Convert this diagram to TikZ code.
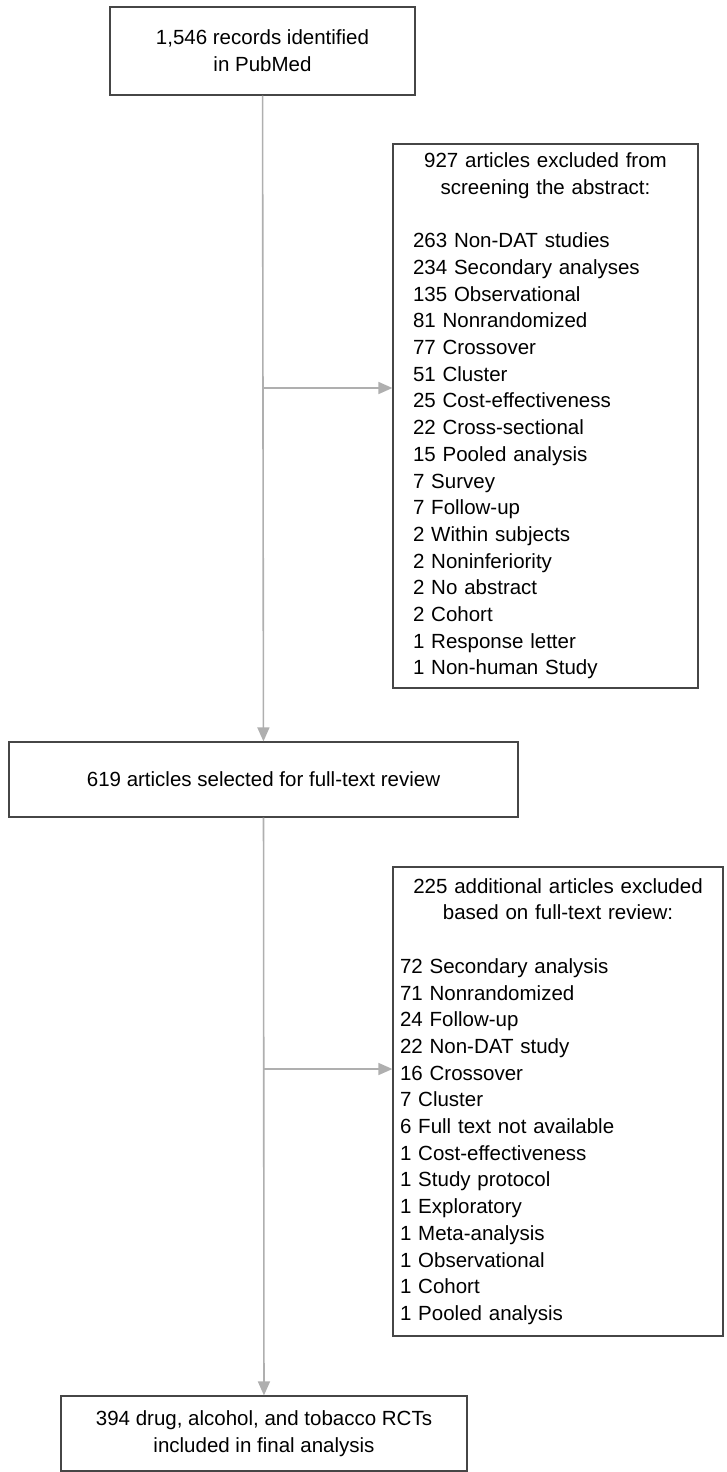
\documentclass[tikz,border=0pt]{standalone}
\usepackage{fontspec}
\setmainfont{Liberation Sans}
\usetikzlibrary{arrows.meta}
\definecolor{linegray}{RGB}{175,175,175}
\definecolor{boxgray}{RGB}{70,70,70}

\begin{document}
\begin{tikzpicture}[
    x=1pt, y=-1pt,
    % boxes and connectors
    stage/.style={
        draw=boxgray,
        line width=1.2pt,
        align=center,
        inner sep=0pt,
        font=\fontsize{20.5}{26.7}\selectfont
    },
    excluded/.style={
        draw=boxgray,
        line width=1.2pt,
        inner ysep=0pt,
        font=\fontsize{20.5}{26.7}\selectfont
    },
    flow/.style={
        -{Triangle[length=14pt, width=12pt]},
        draw=linegray,
        line width=1.6pt,
        color=linegray
    }
]
    \useasboundingbox (0,0) rectangle (726,1472);

    % --- boxes ---
    \node[stage, minimum width=305pt, minimum height=88pt] (records) at (262.5,51)
        {1,546 records identified\\in PubMed};
    \node[stage, minimum width=509pt, minimum height=75pt] (fulltext) at (263.5,779.5)
        {619 articles selected for full-text review};
    \node[stage, minimum width=406pt, minimum height=75pt] (final) at (264,1433.5)
        {394 drug, alcohol, and tobacco RCTs\\included in final analysis};

    \node[excluded, inner xsep=20pt, text width=265pt, minimum height=544pt] (screen) at (545.5,416)
        {{\centering 927 articles excluded from\\screening the abstract:\par}
         \vspace{26.7pt}\raggedright
         263 Non-DAT studies\\234 Secondary analyses\\135 Observational\\81 Nonrandomized\\
         77 Crossover\\51 Cluster\\25 Cost-effectiveness\\22 Cross-sectional\\
         15 Pooled analysis\\7 Survey\\7 Follow-up\\2 Within subjects\\2 Noninferiority\\
         2 No abstract\\2 Cohort\\1 Response letter\\1 Non-human Study\par};
    \node[excluded, inner xsep=7pt, text width=316pt, minimum height=469pt] (review) at (558,1101.5)
        {{\centering 225 additional articles excluded\\based on full-text review:\par}
         \vspace{26.7pt}\raggedright
         72 Secondary analysis\\71 Nonrandomized\\24 Follow-up\\22 Non-DAT study\\
         16 Crossover\\7 Cluster\\6 Full text not available\\1 Cost-effectiveness\\
         1 Study protocol\\1 Exploratory\\1 Meta-analysis\\1 Observational\\1 Cohort\\
         1 Pooled analysis\par};

    % --- connectors ---
    \coordinate (split1) at (264,388);
    \coordinate (split2) at (264,1069);
    \draw[flow] (records) -- (fulltext);
    \draw[flow] (fulltext) -- (final);
    \draw[flow] (split1) -- (split1 -| screen.west);
    \draw[flow] (split2) -- (split2 -| review.west);
\end{tikzpicture}
\end{document}
